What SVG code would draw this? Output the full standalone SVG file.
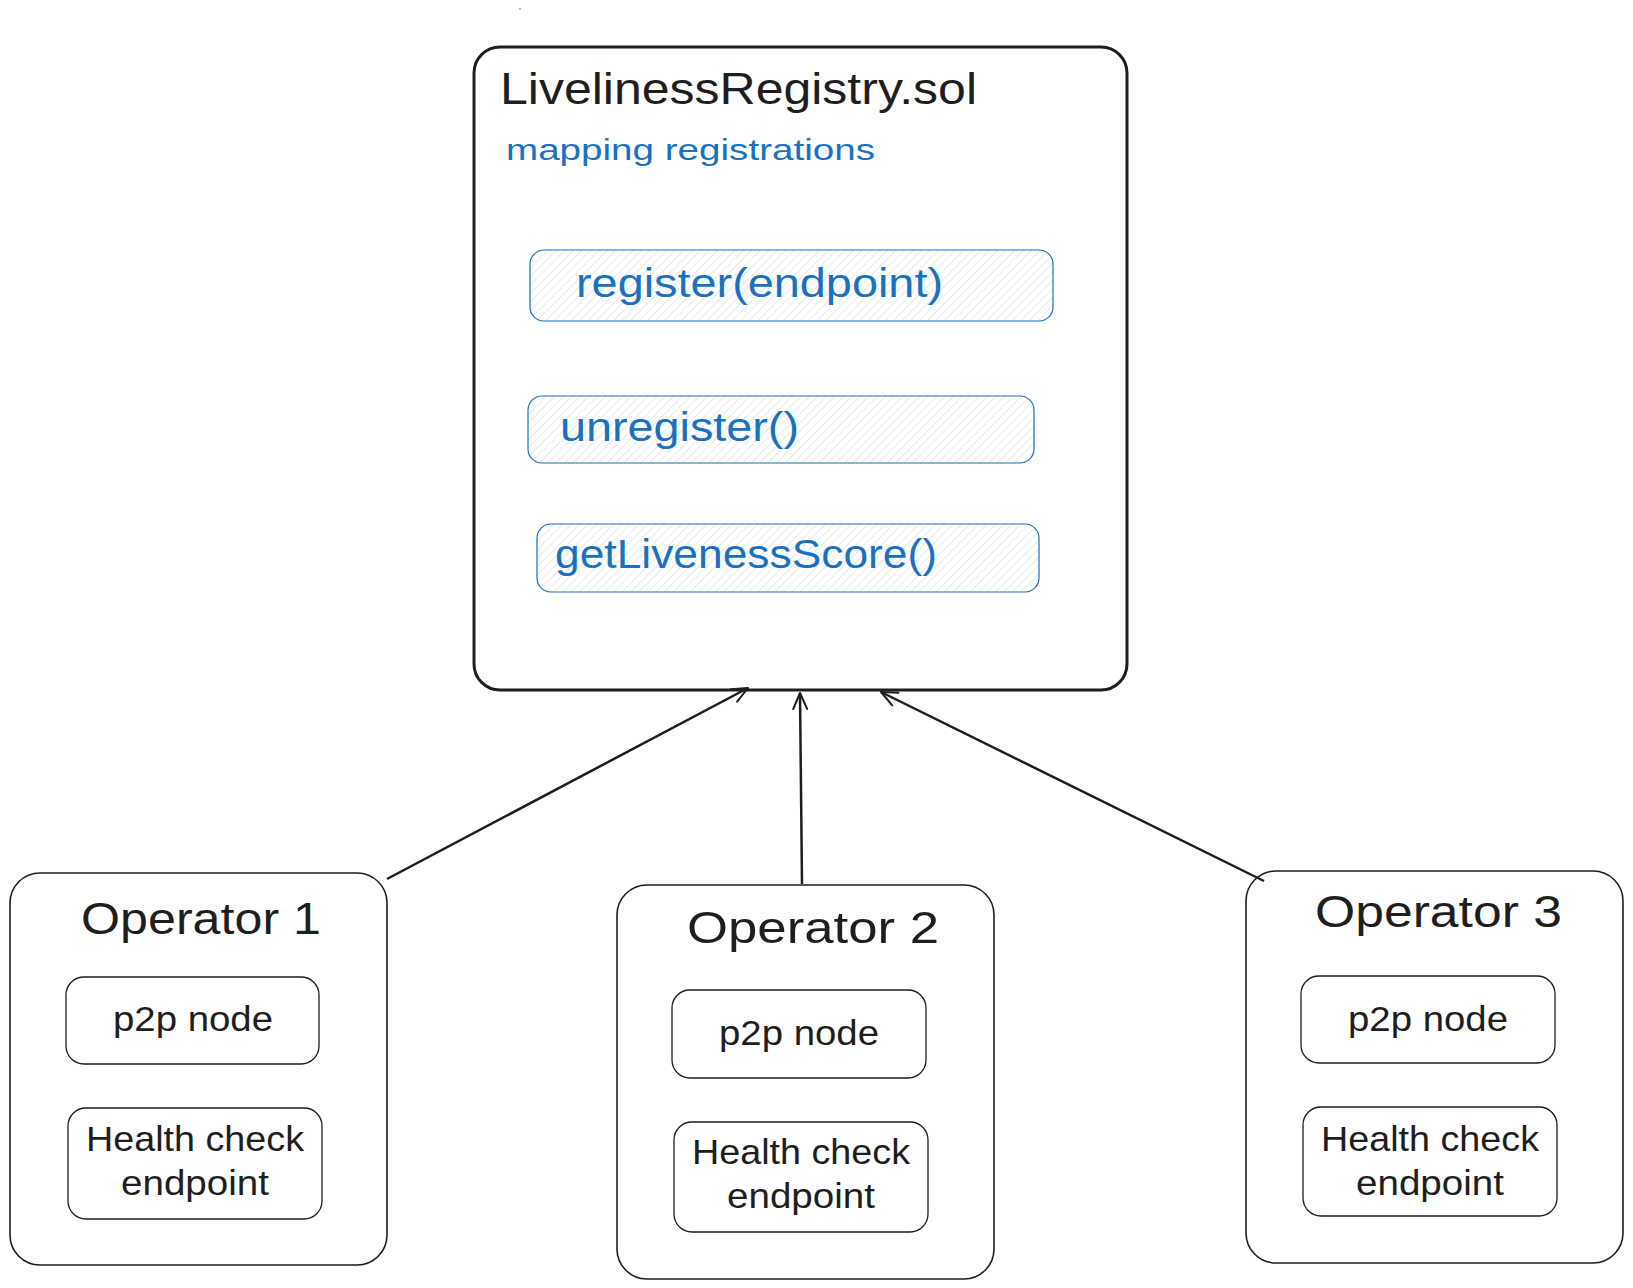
<svg xmlns="http://www.w3.org/2000/svg" width="1633" height="1288" viewBox="0 0 1633 1288">
<defs>
<pattern id="hatch" patternUnits="userSpaceOnUse" width="6" height="6" patternTransform="rotate(45)">
<rect width="6" height="6" fill="#ffffff"/>
<line x1="0" y1="0" x2="0" y2="6" stroke="#d6dbe0" stroke-width="1.2"/>
</pattern>
<marker id="arr" viewBox="0 0 20 20" refX="18" refY="10" markerWidth="20" markerHeight="20" markerUnits="userSpaceOnUse" orient="auto">
<path d="M2,3 L18,10 L2,17" fill="none" stroke="#1e1e1e" stroke-width="2" stroke-linecap="round" stroke-linejoin="round"/>
</marker>
</defs>
<style>
.main{fill:#ffffff;stroke:#1e1e1e;stroke-width:3}
.op{fill:#ffffff;stroke:#1e1e1e;stroke-width:1.6}
.inner{fill:#ffffff;stroke:#1e1e1e;stroke-width:1.3}
.fn{fill:url(#hatch);stroke:#1971c2;stroke-width:1.2}
.t{font-family:"Liberation Sans","DejaVu Sans",sans-serif;fill:#1e1e1e}
.b{font-family:"Liberation Sans","DejaVu Sans",sans-serif;fill:#1971c2}
.c{text-anchor:middle}
.edge{stroke:#1e1e1e;stroke-width:2.5;fill:none;marker-end:url(#arr)}
</style>
<rect width="1633" height="1288" fill="#ffffff"/>
<circle cx="520" cy="9" r="0.8" fill="#555"/>

<g id="registry">
<rect class="main" x="474" y="47" width="653" height="643" rx="26"/>
<text class="t" x="500" y="104" font-size="44" textLength="477" lengthAdjust="spacingAndGlyphs">LivelinessRegistry.sol</text>
<text class="b" x="506" y="160" font-size="30" textLength="369" lengthAdjust="spacingAndGlyphs">mapping registrations</text>
</g>

<g id="fn-register">
<rect class="fn" x="530" y="250" width="523" height="71" rx="14"/>
<text class="b" x="576" y="297" font-size="40" textLength="367" lengthAdjust="spacingAndGlyphs">register(endpoint)</text>
</g>

<g id="fn-unregister">
<rect class="fn" x="528" y="396" width="506" height="67" rx="14"/>
<text class="b" x="560" y="441" font-size="40" textLength="239" lengthAdjust="spacingAndGlyphs">unregister()</text>
</g>

<g id="fn-getscore">
<rect class="fn" x="537" y="524" width="502" height="68" rx="14"/>
<text class="b" x="555" y="568" font-size="40" textLength="382" lengthAdjust="spacingAndGlyphs">getLivenessScore()</text>
</g>

<g id="operator1">
<rect class="op" x="10" y="873" width="377" height="392" rx="30"/>
<text class="t" x="81" y="934" font-size="44" textLength="240" lengthAdjust="spacingAndGlyphs">Operator 1</text>
<rect class="inner" x="66" y="977" width="253" height="87" rx="18"/>
<text class="t c" x="193" y="1031" font-size="35" textLength="160" lengthAdjust="spacingAndGlyphs">p2p node</text>
<rect class="inner" x="68" y="1108" width="254" height="111" rx="18"/>
<text class="t c" x="195" y="1151" font-size="35" textLength="218" lengthAdjust="spacingAndGlyphs">Health check</text>
<text class="t c" x="195" y="1195" font-size="35" textLength="148" lengthAdjust="spacingAndGlyphs">endpoint</text>
</g>

<g id="operator2">
<rect class="op" x="617" y="885" width="377" height="394" rx="30"/>
<text class="t" x="687" y="943" font-size="44" textLength="252" lengthAdjust="spacingAndGlyphs">Operator 2</text>
<rect class="inner" x="672" y="990" width="254" height="88" rx="18"/>
<text class="t c" x="799" y="1045" font-size="35" textLength="160" lengthAdjust="spacingAndGlyphs">p2p node</text>
<rect class="inner" x="674" y="1122" width="254" height="110" rx="18"/>
<text class="t c" x="801" y="1164" font-size="35" textLength="218" lengthAdjust="spacingAndGlyphs">Health check</text>
<text class="t c" x="801" y="1208" font-size="35" textLength="148" lengthAdjust="spacingAndGlyphs">endpoint</text>
</g>

<g id="operator3">
<rect class="op" x="1246" y="871" width="377" height="392" rx="30"/>
<text class="t" x="1315" y="927" font-size="44" textLength="247" lengthAdjust="spacingAndGlyphs">Operator 3</text>
<rect class="inner" x="1301" y="976" width="254" height="87" rx="18"/>
<text class="t c" x="1428" y="1031" font-size="35" textLength="160" lengthAdjust="spacingAndGlyphs">p2p node</text>
<rect class="inner" x="1303" y="1107" width="254" height="109" rx="18"/>
<text class="t c" x="1430" y="1151" font-size="35" textLength="218" lengthAdjust="spacingAndGlyphs">Health check</text>
<text class="t c" x="1430" y="1195" font-size="35" textLength="148" lengthAdjust="spacingAndGlyphs">endpoint</text>
</g>

<g id="connectors">
<line class="edge" x1="387" y1="879" x2="748" y2="688"/>
<line class="edge" x1="802" y1="884" x2="800" y2="693"/>
<line class="edge" x1="1264" y1="881" x2="881" y2="692"/>
</g>
</svg>
